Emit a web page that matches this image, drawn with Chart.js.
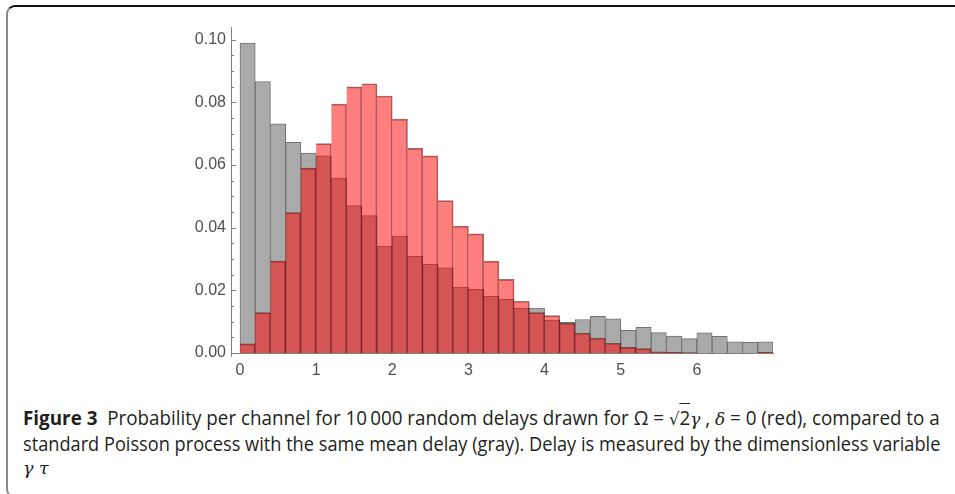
<!DOCTYPE html>
<html>
<head>
<meta charset="utf-8">
<script src="https://cdn.jsdelivr.net/npm/chart.js@4.4.1/dist/chart.umd.min.js"></script>
<style>
  html, body { margin: 0; padding: 0; background: #fff; }
  body { width: 955px; height: 494px; position: relative; overflow: hidden; }
  #frame { position: absolute; left: 6px; top: 5px; width: 980px; height: 493px;
           border-top: 2px solid #111; border-left: 2px solid #8a8a8a; border-bottom: 2px solid #8a8a8a;
           border-radius: 9px 0 0 9px; box-sizing: border-box; }
  #wrap { position: absolute; left: 0; top: 0; width: 955px; height: 390px; }
  .cap { position: absolute; left: 23px; white-space: nowrap; font-family: "Open Sans", sans-serif;
         font-size: 19.5px; line-height: 25px; color: #231f20; transform-origin: 0 0; }
  .cap b { font-weight: 700; }
  .m { font-family: "DejaVu Serif", "Liberation Serif", serif; font-style: italic; font-size: 17.5px; }
  .rad { font-family: "DejaVu Sans", sans-serif; font-size: 17px; }
  .ov { border-top: 1px solid #231f20; }
</style>
</head>
<body>
<div id="frame"></div>
<div id="wrap"><canvas id="c" width="955" height="390"></canvas></div>
<div class="cap" id="l1" data-w="917"><b>Figure 3</b>&nbsp; Probability per channel for 10&#8201;000 random delays drawn for Ω = <span class="rad">√</span><span class="ov">2</span><span class="m">γ</span> , <span class="m">δ</span> = 0 (red), compared to a</div>
<div class="cap" id="l2" data-w="917">standard Poisson process with the same mean delay (gray). Delay is measured by the dimensionless variable</div>
<div class="cap" id="l3"><span class="m">γ τ</span></div>
<script>
// ---- data ----
const binCenters = [0.1,0.3,0.5,0.7,0.9,1.1,1.3,1.5,1.7,1.9,2.1,2.3,2.5,2.7,2.9,3.1,3.3,3.5,3.7,3.9,
                    4.1,4.3,4.5,4.7,4.9,5.1,5.3,5.5,5.7,5.9,6.1,6.3,6.5,6.7,6.9];
const redValues = [0.0029,0.0129,0.0293,0.0448,0.0590,0.0668,0.0794,0.0849,0.0859,0.0820,
                   0.0746,0.0653,0.0629,0.0486,0.0405,0.0380,0.0293,0.0235,0.0165,0.0129,
                   0.0119,0.0095,0.0063,0.0047,0.0031,0.0018,0.0014,0.0004,0.0002,0.0001,
                   0.0000,0.0000,0.0000,0.0000,0.0002];
const grayValues = [0.0989,0.0866,0.0731,0.0672,0.0638,0.0629,0.0558,0.0470,0.0438,0.0341,
                    0.0373,0.0308,0.0283,0.0272,0.0210,0.0203,0.0181,0.0171,0.0143,0.0143,
                    0.0105,0.0098,0.0107,0.0117,0.0109,0.0072,0.0082,0.0065,0.0054,0.0046,
                    0.0064,0.0053,0.0036,0.0034,0.0036];
const xTicks = [0,1,2,3,4,5,6];
const yTicks = [0,0.02,0.04,0.06,0.08,0.10];
const yMinorTicks = [0.005,0.01,0.015,0.025,0.03,0.035,0.045,0.05,0.055,0.065,0.07,0.075,0.085,0.09,0.095];

const toPts = (vals) => vals.map((v, i) => ({ x: binCenters[i], y: v }));

const tickPlugin = {
  id: 'inTicks',
  afterDatasetsDraw(chart) {
    const ctx = chart.ctx, y = chart.scales.y, a = chart.chartArea;
    ctx.save();
    ctx.strokeStyle = '#808080';
    ctx.lineWidth = 1;
    ctx.beginPath();
    yTicks.forEach(v => { const p = Math.round(y.getPixelForValue(v)) + 0.5; ctx.moveTo(a.left, p); ctx.lineTo(a.left + 5, p); });
    yMinorTicks.forEach(v => { const p = Math.round(y.getPixelForValue(v)) + 0.5; ctx.moveTo(a.left, p); ctx.lineTo(a.left + 3, p); });
    ctx.moveTo(a.left + 0.5, a.bottom); ctx.lineTo(a.left + 0.5, a.bottom + 4);
    ctx.stroke();
    ctx.restore();
  }
};

new Chart(document.getElementById('c'), {
  type: 'bar',
  data: {
    datasets: [
      { label: 'red', data: toPts(redValues), grouped: false,
        backgroundColor: 'rgba(255,0,0,0.5)', borderColor: 'rgba(60,0,0,0.55)',
        borderWidth: { top: 1, right: 1, left: 0, bottom: 0 }, borderSkipped: false,
        barPercentage: 1, categoryPercentage: 1 },
      { label: 'gray', data: toPts(grayValues), grouped: false,
        backgroundColor: '#aaaaaa', borderColor: '#727272',
        borderWidth: { top: 1, right: 1, left: 1, bottom: 0 }, borderSkipped: false,
        barPercentage: 1, categoryPercentage: 1 }
    ]
  },
  options: {
    responsive: false, animation: false,
    layout: { padding: { left: 0, right: 182, top: 27, bottom: 0 } },
    plugins: { legend: { display: false }, tooltip: { enabled: false } },
    scales: {
      x: { type: 'linear', min: -0.118, max: 7.0, offset: false,
           afterFit: s => { s.height = 37; },
           afterBuildTicks: s => { s.ticks = xTicks.map(v => ({ value: v })); },
           grid: { display: false, drawTicks: false },
           border: { display: true, color: '#808080', width: 1 },
           ticks: { padding: 8, color: '#505050', font: { family: 'Liberation Sans', size: 16 },
                    callback: v => String(v) } },
      y: { min: 0, max: 0.104,
           afterFit: s => { s.width = 231; },
           afterBuildTicks: s => { s.ticks = yTicks.map(v => ({ value: v })); },
           grid: { display: false, drawTicks: false },
           border: { display: true, color: '#808080', width: 1 },
           ticks: { padding: 5, color: '#505050', font: { family: 'Liberation Sans', size: 16 },
                    callback: v => Number(v).toFixed(2) } }
    }
  },
  plugins: [tickPlugin]
});

// caption placement: baselines approx 426 / 451.5 / 475
const tops = { l1: 405, l2: 430.5, l3: 454 };
for (const id in tops) {
  const el = document.getElementById(id);
  el.style.top = tops[id] + 'px';
  const w = el.dataset.w ? +el.dataset.w : 0;
  if (w) { const s = w / el.scrollWidth; el.style.transform = 'scaleX(' + s + ')'; }
}
</script>
</body>
</html>
